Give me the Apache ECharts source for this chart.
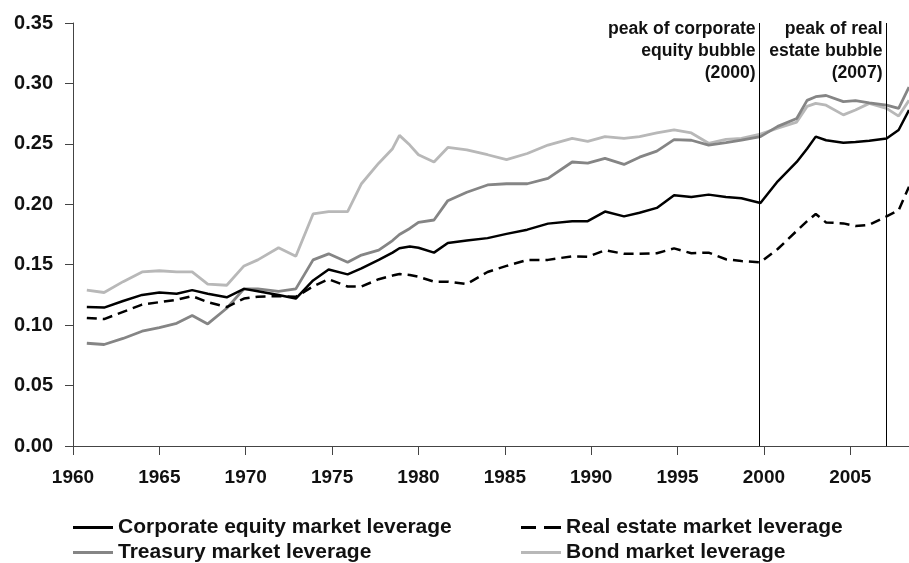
<!DOCTYPE html>
<html>
<head>
<meta charset="utf-8">
<script src="https://cdn.jsdelivr.net/npm/echarts/dist/echarts.min.js"></script>
<style>
	html, body { margin: 0; padding: 0; background: #fff; }
	#chart { width: 909px; height: 563px; }
</style>
</head>
<body>
<div id="chart"></div>
<script>
	// values
	const years = [1960.8, 1961.8, 1962.9, 1964, 1965, 1966, 1966.9, 1967.8, 1968.9, 1969.9,
		1970.7, 1971.9, 1972.9, 1973.9, 1974.8, 1975.9, 1976.7, 1977.7, 1978.5, 1978.9,
		1979.5, 1980, 1980.9, 1981.7, 1982.8, 1984, 1985.1, 1986.3, 1987.5, 1988.9,
		1989.8, 1990.8, 1991.9, 1992.8, 1993.8, 1994.8, 1995.8, 1996.8, 1997.8, 1998.7,
		1999.8, 2000.8, 2001.9, 2002.5, 2003, 2003.6, 2004.6, 2005.3, 2006.1, 2007.1,
		2007.8, 2008.4];

	const corporateEquity = [0.115, 0.1145, 0.120, 0.125, 0.127, 0.126, 0.129, 0.126, 0.123, 0.130,
		0.128, 0.125, 0.122, 0.137, 0.146, 0.142, 0.147, 0.154, 0.160, 0.1636,
		0.165, 0.164, 0.160, 0.168, 0.170, 0.172, 0.1755, 0.179, 0.184, 0.186,
		0.186, 0.194, 0.190, 0.193, 0.197, 0.2075, 0.206, 0.208, 0.206, 0.205,
		0.201, 0.219, 0.235, 0.246, 0.256, 0.253, 0.251, 0.2515, 0.2525, 0.2545,
		0.2615, 0.278];

	const realEstate = [0.106, 0.105, 0.111, 0.117, 0.119, 0.121, 0.124, 0.119, 0.115, 0.122,
		0.1235, 0.124, 0.1235, 0.132, 0.138, 0.132, 0.132, 0.138, 0.141, 0.1423,
		0.1415, 0.140, 0.136, 0.136, 0.134, 0.144, 0.149, 0.154, 0.154, 0.157,
		0.1565, 0.162, 0.159, 0.159, 0.1595, 0.1635, 0.1595, 0.160, 0.1545, 0.153,
		0.152, 0.163, 0.178, 0.186, 0.192, 0.185, 0.1842, 0.182, 0.183, 0.190,
		0.195, 0.2146];

	const treasury = [0.085, 0.084, 0.089, 0.095, 0.098, 0.1015, 0.108, 0.101, 0.114, 0.130,
		0.130, 0.128, 0.130, 0.154, 0.159, 0.152, 0.158, 0.162, 0.170, 0.175,
		0.180, 0.185, 0.187, 0.203, 0.210, 0.216, 0.217, 0.217, 0.2215, 0.235,
		0.234, 0.238, 0.233, 0.239, 0.244, 0.2535, 0.253, 0.249, 0.251, 0.253,
		0.256, 0.2645, 0.271, 0.286, 0.289, 0.290, 0.285, 0.2857, 0.284, 0.282,
		0.2794, 0.297];

	const bond = [0.129, 0.127, 0.136, 0.144, 0.145, 0.144, 0.144, 0.134, 0.133, 0.149,
		0.154, 0.164, 0.157, 0.192, 0.194, 0.194, 0.217, 0.234, 0.246, 0.257,
		0.249, 0.241, 0.235, 0.247, 0.245, 0.241, 0.237, 0.242, 0.249, 0.2545,
		0.252, 0.256, 0.2545, 0.256, 0.259, 0.2615, 0.259, 0.2505, 0.2537, 0.2546,
		0.258, 0.263, 0.268, 0.281, 0.2835, 0.282, 0.274, 0.278, 0.2835, 0.2794,
		0.273, 0.286];

	const peakYears = [1999.75, 2007.1];
	const peakLabels = [
		['peak of corporate', 'equity bubble', '(2000)'],
		['peak of real', 'estate bubble', '(2007)']
	];

	const FONT = "'Liberation Sans', Arial, sans-serif";
	const SOLID_ICON = 'path://M0,0H40V3H0Z';
	const DASH_ICON = 'path://M0,0H15V3H0Z M23,0H40V3H23Z';

	function pairs(values) {
		return years.map((y, i) => [y, values[i]]);
	}

	let chart = echarts.init(document.getElementById('chart'));

	let legendText = { fontSize: 21, fontWeight: 'bold', color: '#111', fontFamily: FONT };

	let option = {
		animation: false,
		backgroundColor: '#fff',
		grid: {
			left: 73,
			right: 0,
			top: 23,
			bottom: 117,
			containLabel: false,
			outerBoundsMode: 'none'
		},
		legend: [{
			orient: 'vertical',
			left: 68,
			top: 512,
			height: 60,
			itemGap: 4,
			itemWidth: 40,
			itemHeight: 3,
			data: [
				{ name: 'Corporate equity market leverage', icon: SOLID_ICON },
				{ name: 'Treasury market leverage', icon: SOLID_ICON }
			],
			textStyle: legendText
		}, {
			orient: 'vertical',
			left: 516,
			top: 512,
			height: 60,
			itemGap: 4,
			itemWidth: 40,
			itemHeight: 3,
			data: [
				{ name: 'Real estate market leverage', icon: DASH_ICON },
				{ name: 'Bond market leverage', icon: SOLID_ICON }
			],
			textStyle: legendText
		}],
		xAxis: {
			type: 'value',
			min: 1960,
			max: 2008.4,
			interval: 5,
			axisLine: { show: true, lineStyle: { color: '#444', width: 1 } },
			axisTick: { show: true, length: 9, lineStyle: { color: '#444' } },
			splitLine: { show: false },
			axisLabel: {
				margin: 22,
				color: '#111',
				fontSize: 19,
				fontWeight: 'bold',
				fontFamily: FONT,
				showMaxLabel: false,
				formatter: v => (v % 5 === 0 ? String(v) : '')
			}
		},
		yAxis: {
			type: 'value',
			min: 0,
			max: 0.35,
			interval: 0.05,
			axisLine: { show: true, lineStyle: { color: '#444', width: 1 } },
			axisTick: { show: true, length: 8, lineStyle: { color: '#444' } },
			splitLine: { show: false },
			axisLabel: {
				margin: 20,
				color: '#111',
				fontSize: 20,
				fontWeight: 'bold',
				fontFamily: FONT,
				formatter: v => v.toFixed(2)
			}
		},
		series: [{
			type: 'line',
			name: 'Bond market leverage',
			data: pairs(bond),
			symbol: 'none',
			color: '#b8b8b8',
			lineStyle: { color: '#b8b8b8', width: 2.8 }
		}, {
			type: 'line',
			name: 'Treasury market leverage',
			data: pairs(treasury),
			symbol: 'none',
			color: '#858585',
			lineStyle: { color: '#858585', width: 2.8 }
		}, {
			type: 'line',
			name: 'Real estate market leverage',
			data: pairs(realEstate),
			symbol: 'none',
			color: '#000',
			lineStyle: { color: '#000', width: 2.5, type: [10, 6] }
		}, {
			type: 'line',
			name: 'Corporate equity market leverage',
			data: pairs(corporateEquity),
			symbol: 'none',
			color: '#000',
			lineStyle: { color: '#000', width: 2.5 },
			markLine: {
				silent: true,
				symbol: ['none', 'none'],
				label: { show: false },
				lineStyle: { color: '#000', width: 1, type: 'solid' },
				data: peakYears.map(y => ({ xAxis: y }))
			}
		}]
	};

	chart.setOption(option);

	// peak annotations placed next to the marker lines
	let texts = [];
	peakYears.forEach((yr, i) => {
		let p = chart.convertToPixel({ xAxisIndex: 0, yAxisIndex: 0 }, [yr, 0.35]);
		peakLabels[i].forEach((line, j) => {
			texts.push({
				type: 'text',
				silent: true,
				style: {
					text: line,
					x: p[0] - 4,
					y: p[1] - 3 + j * 22,
					textAlign: 'right',
					textVerticalAlign: 'top',
					font: 'bold 17.6px ' + FONT,
					fill: '#111'
				}
			});
		});
	});
	chart.setOption({ graphic: texts });

	window.addEventListener('resize', function() {
		chart.resize();
	});
</script>
</body>
</html>
